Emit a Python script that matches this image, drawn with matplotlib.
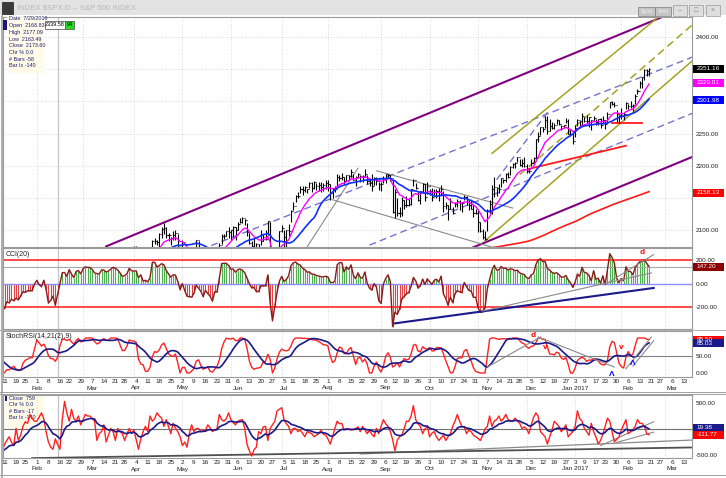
import numpy as np
import pandas as pd
import matplotlib
matplotlib.use("Agg")
import matplotlib.pyplot as plt
import matplotlib.transforms as mtrans
from matplotlib.patches import Rectangle
from matplotlib.lines import Line2D

plt.rcParams['font.family'] = ['Liberation Sans', 'DejaVu Sans']

# S&P 500 daily bars, 2 Nov 2015 .. 17 Feb 2017, one row per month
close = [
    2104.05, 2109.79, 2102.31, 2099.93, 2099.20, 2078.58, 2081.72, 2075.00, 2045.97, 2023.04, 2053.19, 2050.44, 2083.58, 2081.24, 2089.17, 2086.59, 2089.14, 2088.87, 2090.11, 2080.41,
    2102.63, 2079.51, 2049.62, 2091.69, 2077.07, 2063.59, 2047.62, 2052.23, 2012.37, 2021.94, 2043.41, 2073.07, 2041.89, 2005.55, 2021.15, 2038.97, 2064.29, 2060.99, 2056.50, 2078.36, 2063.36, 2043.94,
    2012.66, 2016.71, 1990.26, 1943.09, 1922.03, 1923.67, 1938.68, 1890.28, 1921.84, 1880.33, 1881.33, 1859.33, 1868.99, 1906.90, 1877.08, 1903.63, 1882.95, 1893.36, 1940.24,
    1939.38, 1903.03, 1912.53, 1915.45, 1880.05, 1853.44, 1852.21, 1851.86, 1829.08, 1864.78, 1895.58, 1926.82, 1917.83, 1917.78, 1945.50, 1921.27, 1929.80, 1951.70, 1948.05, 1932.23,
    1978.35, 1986.45, 1993.40, 1999.99, 2001.76, 1979.26, 1989.26, 1989.57, 2022.19, 2019.64, 2015.93, 2027.22, 2040.59, 2049.58, 2051.60, 2049.80, 2036.71, 2035.94, 2037.05, 2055.01, 2063.95, 2059.74,
    2072.78, 2066.13, 2045.17, 2066.66, 2041.91, 2047.60, 2041.99, 2061.72, 2082.42, 2082.78, 2080.73, 2094.34, 2100.80, 2102.40, 2091.48, 2091.58, 2087.79, 2091.70, 2095.15, 2075.81, 2065.30,
    2081.43, 2063.37, 2051.12, 2050.63, 2057.14, 2058.69, 2084.39, 2064.46, 2064.11, 2046.61, 2066.66, 2047.21, 2047.63, 2040.04, 2052.32, 2048.04, 2076.06, 2090.54, 2090.10, 2099.06, 2096.95,
    2099.33, 2105.26, 2099.13, 2109.41, 2112.13, 2119.12, 2115.48, 2096.07, 2079.06, 2075.32, 2071.50, 2077.99, 2071.22, 2083.25, 2088.90, 2085.45, 2113.32, 2037.41, 2000.54, 2036.09, 2070.77, 2098.86,
    2102.95, 2088.55, 2099.73, 2097.90, 2129.90, 2137.16, 2152.14, 2152.43, 2163.75, 2161.74, 2166.89, 2163.78, 2173.02, 2165.17, 2175.03, 2168.48, 2169.18, 2166.58, 2170.06, 2173.60,
    2170.84, 2157.03, 2163.79, 2164.25, 2182.87, 2180.89, 2181.74, 2175.49, 2185.79, 2184.05, 2190.15, 2178.15, 2182.22, 2187.02, 2183.87, 2182.64, 2186.90, 2175.44, 2172.47, 2169.04, 2180.38, 2176.12, 2170.95,
    2170.86, 2179.98, 2186.48, 2186.16, 2181.30, 2127.81, 2159.04, 2127.02, 2125.77, 2147.26, 2139.16, 2139.12, 2139.76, 2163.12, 2177.18, 2164.69, 2146.10, 2159.93, 2171.37, 2151.13, 2168.27,
    2161.20, 2150.49, 2159.73, 2160.77, 2153.74, 2163.66, 2136.73, 2139.18, 2132.55, 2132.98, 2126.50, 2139.60, 2144.29, 2141.34, 2141.16, 2151.33, 2143.16, 2139.43, 2133.04, 2126.41, 2126.15,
    2111.72, 2097.94, 2088.66, 2085.18, 2131.52, 2139.56, 2163.26, 2167.48, 2164.45, 2164.20, 2180.39, 2176.94, 2187.12, 2181.90, 2198.18, 2202.94, 2204.72, 2213.35, 2201.72, 2204.66, 2198.81,
    2191.08, 2191.95, 2204.71, 2212.23, 2241.35, 2246.19, 2259.53, 2256.96, 2271.72, 2253.28, 2262.03, 2258.07, 2262.53, 2270.76, 2265.18, 2260.96, 2263.79, 2268.88, 2249.92, 2249.26, 2238.83,
    2257.83, 2270.75, 2269.00, 2276.98, 2268.90, 2268.90, 2275.32, 2270.44, 2274.64, 2267.89, 2271.89, 2263.69, 2271.31, 2265.20, 2280.07, 2298.37, 2296.68, 2294.69, 2280.90, 2278.87,
    2279.55, 2280.85, 2297.42, 2292.56, 2293.08, 2294.67, 2307.87, 2316.10, 2328.25, 2337.58, 2349.25, 2347.22, 2351.16,
]
high = [
    2105, 2115, 2114, 2108, 2101, 2094, 2084, 2093, 2072, 2045, 2053, 2066, 2084, 2087, 2097, 2095, 2094, 2094, 2094, 2094,
    2103, 2104, 2086, 2093, 2090, 2073, 2081, 2067, 2043, 2023, 2053, 2077, 2076, 2041, 2022, 2040, 2064, 2067, 2058, 2081, 2077, 2063,
    2038, 2021, 2011, 1985, 1960, 1935, 1947, 1950, 1934, 1908, 1902, 1876, 1889, 1909, 1906, 1905, 1916, 1902, 1940,
    1947, 1931, 1916, 1927, 1913, 1873, 1868, 1881, 1846, 1865, 1896, 1930, 1931, 1918, 1947, 1942, 1932, 1952, 1963, 1958,
    1978, 1987, 1994, 2009, 2006, 1999, 1993, 2006, 2022, 2024, 2020, 2033, 2046, 2052, 2053, 2056, 2051, 2037, 2042, 2056, 2073, 2067,
    2075, 2075, 2061, 2068, 2063, 2061, 2062, 2065, 2084, 2088, 2084, 2095, 2104, 2111, 2104, 2095, 2089, 2099, 2100, 2094, 2073,
    2084, 2074, 2060, 2060, 2058, 2068, 2085, 2083, 2074, 2064, 2072, 2071, 2061, 2045, 2059, 2056, 2079, 2094, 2093, 2099, 2104,
    2100, 2106, 2105, 2113, 2119, 2120, 2117, 2110, 2095, 2082, 2087, 2079, 2078, 2100, 2094, 2100, 2114, 2113, 2032, 2037, 2071, 2099,
    2108, 2100, 2100, 2109, 2131, 2143, 2155, 2159, 2169, 2169, 2169, 2164, 2175, 2174, 2176, 2173, 2174, 2174, 2173, 2177,
    2178, 2171, 2165, 2168, 2187, 2186, 2188, 2183, 2186, 2185, 2194, 2187, 2184, 2188, 2185, 2185, 2194, 2186, 2179, 2187, 2183, 2183, 2175,
    2174, 2184, 2187, 2187, 2185, 2178, 2163, 2150, 2136, 2151, 2146, 2153, 2150, 2164, 2179, 2173, 2159, 2161, 2173, 2172, 2175,
    2164, 2165, 2163, 2163, 2165, 2170, 2161, 2144, 2138, 2149, 2135, 2144, 2148, 2147, 2143, 2155, 2152, 2146, 2147, 2140, 2133,
    2131, 2112, 2102, 2099, 2132, 2146, 2170, 2182, 2165, 2171, 2181, 2179, 2188, 2190, 2199, 2204, 2205, 2214, 2211, 2211, 2214,
    2202, 2197, 2210, 2213, 2242, 2252, 2260, 2260, 2278, 2277, 2273, 2268, 2267, 2272, 2271, 2264, 2264, 2274, 2272, 2255, 2253,
    2264, 2273, 2270, 2282, 2275, 2279, 2275, 2271, 2278, 2273, 2272, 2274, 2277, 2271, 2284, 2299, 2301, 2299, 2286, 2279,
    2289, 2283, 2299, 2296, 2300, 2296, 2311, 2319, 2331, 2338, 2351, 2351, 2352,
]
low = [
    2080, 2097, 2096, 2091, 2083, 2072, 2070, 2075, 2045, 2022, 2019, 2045, 2051, 2080, 2083, 2081, 2070, 2086, 2084, 2080,
    2082, 2077, 2042, 2051, 2066, 2052, 2040, 2045, 2009, 1993, 2025, 2042, 2041, 2005, 2005, 2022, 2042, 2058, 2044, 2061, 2062, 2043,
    1989, 2005, 1979, 1938, 1918, 1901, 1914, 1886, 1878, 1857, 1864, 1812, 1848, 1877, 1875, 1878, 1872, 1873, 1894,
    1920, 1901, 1872, 1900, 1872, 1829, 1838, 1850, 1810, 1834, 1866, 1898, 1915, 1902, 1919, 1919, 1891, 1927, 1945, 1932,
    1937, 1971, 1978, 1990, 1987, 1978, 1980, 1969, 1998, 2012, 2006, 2011, 2022, 2041, 2042, 2039, 2035, 2022, 2031, 2023, 2057, 2057,
    2044, 2062, 2043, 2043, 2034, 2040, 2040, 2039, 2066, 2078, 2076, 2074, 2088, 2093, 2088, 2082, 2077, 2084, 2084, 2071, 2052,
    2063, 2054, 2045, 2045, 2040, 2054, 2059, 2064, 2053, 2044, 2046, 2044, 2034, 2025, 2044, 2047, 2052, 2078, 2086, 2090, 2088,
    2085, 2089, 2085, 2100, 2110, 2111, 2107, 2090, 2078, 2064, 2070, 2050, 2069, 2076, 2083, 2084, 2092, 2032, 1992, 2008, 2040, 2071,
    2097, 2074, 2074, 2090, 2112, 2131, 2143, 2149, 2157, 2155, 2159, 2157, 2165, 2159, 2163, 2162, 2161, 2159, 2160, 2163,
    2161, 2147, 2150, 2159, 2168, 2176, 2178, 2172, 2176, 2177, 2183, 2178, 2168, 2180, 2175, 2175, 2183, 2171, 2169, 2160, 2170, 2170, 2162,
    2161, 2173, 2173, 2180, 2176, 2127, 2119, 2121, 2120, 2122, 2132, 2135, 2137, 2139, 2169, 2163, 2145, 2141, 2157, 2145, 2156,
    2154, 2145, 2152, 2150, 2145, 2155, 2128, 2132, 2115, 2132, 2124, 2135, 2136, 2131, 2128, 2146, 2139, 2131, 2132, 2120, 2125,
    2097, 2097, 2086, 2084, 2099, 2124, 2125, 2151, 2152, 2157, 2166, 2173, 2175, 2180, 2186, 2196, 2196, 2206, 2200, 2198, 2198,
    2188, 2188, 2199, 2202, 2208, 2237, 2248, 2252, 2259, 2250, 2254, 2257, 2257, 2265, 2263, 2255, 2258, 2266, 2249, 2246, 2234,
    2245, 2262, 2258, 2264, 2268, 2266, 2260, 2255, 2271, 2263, 2264, 2258, 2266, 2257, 2267, 2289, 2294, 2292, 2268, 2267,
    2272, 2271, 2288, 2288, 2290, 2285, 2296, 2311, 2321, 2321, 2334, 2339, 2339,
]

# bottom pane oscillator (other symbol), daily from 8 Jan 2016
breadth_start = "2016-01-08"
breadth = [
    -420, -300, -220, -150, -250, -320, 10, -220, -120, 50,
    140, 110, 280, 200, 150, 150, 230, 310, 200, -50,
    -250, -350, -390, -190, -300, -390, 180, 530, 310, 150,
    380, 200, 150, 250, 80, 180, 280, 250, 250, 200,
    150, -220, -90, -50, 80, -250, -120, 10, -50, -220,
    10, -50, -90, -220, -100, 10, -90, -20, -200, -390,
    -190, -50, 50, -50, 250, 150, 200, 310, 250, 210,
    50, 180, 50, -90, 110, 20, -50, -150, -320, -250,
    -350, -90, 80, -50, 10, 10, -50, -30, -20, 80,
    20, -50, -20, 10, 280, 180, 150, 200, 310, 180,
    120, 80, 150, 170, 180, 10, -300, -420, -520, -400,
    -350, -50, -90, 40, 50, -220, 10, 80, 150, 350,
    380, 410, 180, 100, 50, -90, 10, 10, -50, -20,
    -80, -150, -50, -70, -90, -150, -120, -90, -20, -100,
    -120, -190, -290, -150, 10, 150, 100, 110, -20, 10,
    0, -20, -10, 10, 40, -50, 50, -20, -90, -20,
    -100, -150, 10, -90, 50, 180, 100, 50, -50, -200,
    -420, -220, -150, -120, 10, 150, 150, 250, 450, 180,
    100, 50, -90, 0, 50, -150, -80, -50, -150, -220,
    -170, -120, -220, -150, -90, 50, 150, 280, 150, 50,
    40, -90, -20, -50, -120, -150, -180, -220, -120, 0,
    50, 250, 50, 150, 180, 250, 150, 200, 280, 180,
    160, 150, 210, 150, 110, 10, 40, 0, -90, 80,
    220, 310, 250, -50, -100, -150, -290, -150, -20, 150,
    100, 50, -50, 0, 80, -150, -100, -50, 50, 350,
    200, 150, 10, -50, -120, 110, -50, -150, -290, -220,
    -100, 50, 210, 150, -50, -250, -200, -150, -20, 80,
    180, -90, -50, -20, 50, 180, 110, 110, 50, -90,
    -112,
]

holidays = ["2015-11-26", "2015-12-25", "2016-01-01", "2016-01-18", "2016-02-15",
            "2016-03-25", "2016-05-30", "2016-07-04", "2016-09-05", "2016-11-24",
            "2016-12-26", "2017-01-02", "2017-01-16", "2017-02-20"]

# drawn trend lines: (date, value, date, value)
purple_lines = [("2016-03-15", 2074.4, "2017-02-28", 2431.8),
                ("2016-10-28", 2073.0, "2017-03-17", 2214.0)]
dashed_blue_lines = [("2016-05-12", 2069.3, "2017-03-17", 2369.2),
                     ("2016-08-25", 2076.3, "2017-03-17", 2281.8),
                     ("2016-11-11", 2178.0, "2016-12-15", 2287.5)]
olive_lines = [("2016-11-04", 2083.0, "2017-03-17", 2364.0),
               ("2016-11-09", 2219.0, "2017-02-27", 2434.0)]
olive_dashed_lines = [("2016-11-28", 2186.0, "2017-03-17", 2420.0)]
gray_price_lines = [("2016-07-18", 2068.0, "2016-08-18", 2196.0),
                    ("2016-08-30", 2192.0, "2016-11-22", 2134.0),
                    ("2016-08-03", 2147.0, "2016-11-14", 2070.0)]
red_price_lines = [("2017-01-26", 2265.6, "2017-02-14", 2265.6),
                   ("2016-12-02", 2195.0, "2017-02-03", 2231.0)]
cci_navy_lines = [("2016-09-12", -335, "2017-02-22", -34)]
cci_gray_lines = [("2016-11-03", -230, "2017-02-21", 94),
                  ("2017-01-24", 8, "2017-02-22", 250)]
stoch_gray_lines = [("2016-11-07", 17, "2016-12-09", 103),
                    ("2016-12-08", 103, "2017-01-27", 17),
                    ("2017-02-03", 12, "2017-02-21", 103),
                    ("2017-02-08", 20, "2017-02-22", 92)]
osc_gray_lines = [("2016-08-19", -480, "2017-03-17", -212),
                  ("2016-01-28", -560, "2017-03-17", -355),
                  ("2017-01-19", -320, "2017-02-22", 140),
                  ("2017-01-30", -260, "2017-02-22", -60)]
stoch_marks = [("d", "2016-12-06", 106, "red"), ("v", "2016-12-13", 72, "red"),
               ("Λ", "2017-01-26", -4, "blue"), ("v", "2017-02-01", 74, "red"),
               ("Λ", "2017-02-08", 26, "blue")]
cci_marks = [("d", "2017-02-14", 264, "red")]

price_ticks = [2100, 2200, 2250, 2400]
price_tags = ["2351.16", "2329.01", "2301.98", "2158.13"]
cci_tag = "147.20"
stoch_tags = ["95.50", "85.03"]
osc_tags = ["19.38", "-111.77"]

# ---- calendar and indicators ----
days = pd.bdate_range("2015-11-02", "2017-03-31", freq="C", holidays=holidays)
xpos = {d: i for i, d in enumerate(days)}
def xi(s):
    return xpos[pd.Timestamp(s)]

x = np.arange(len(close))
c = pd.Series(close, dtype=float)
h = pd.Series(high, dtype=float)
l = pd.Series(low, dtype=float)
opn = c.shift(1).fillna(c)

ema10 = c.ewm(span=10, adjust=False).mean()
sma20 = c.rolling(20).mean()
long_ma = c.rolling(230).mean()

tp = (h + l + c) / 3
md = tp.rolling(20).apply(lambda v: np.mean(np.abs(v - v.mean())), raw=True)
cci = (tp - tp.rolling(20).mean()) / (0.015 * md)

delta = c.diff()
gain = delta.clip(lower=0).ewm(alpha=1/14, adjust=False).mean()
loss = (-delta.clip(upper=0)).ewm(alpha=1/14, adjust=False).mean()
rsi = 100 - 100 / (1 + gain / loss)
lo21, hi21 = rsi.rolling(21).min(), rsi.rolling(21).max()
stk = ((rsi - lo21) / (hi21 - lo21) * 100).rolling(2).mean()
std = stk.rolling(9).mean()

bx = xi(breadth_start) + np.arange(len(breadth))
br = pd.Series(breadth, dtype=float)
br_avg = br.ewm(span=10, adjust=False).mean()

wk = days.to_period("W")
week_idx = [i for i in range(len(days)) if i == 0 or wk[i] != wk[i-1]]
week_lbl = [str(days[i].day) for i in week_idx]
month_idx = [i for i in range(1, len(days)) if days[i].month != days[i-1].month]
month_lbl = []
for k, i in enumerate(week_idx):
    if k > 0 and days[i].month != days[week_idx[k-1]].month:
        d = days[i]
        month_lbl.append((i, d.strftime("%b") + (" %d" % d.year if d.month == 1 else "")))

# ---- figure ----
W, H = 726, 478
fig = plt.figure(figsize=(W/100, H/100), dpi=100, facecolor='white')
X0, X1 = 46.35, 344.6

def panel(top, bottom):
    return fig.add_axes([3/W, 1 - bottom/H, (692 - 3)/W, (bottom - top)/H])

def style(ax, ylim, yt):
    ax.set_ylim(*ylim)
    ax.yaxis.tick_right()
    ax.set_yticks(yt)
    ax.set_yticklabels(["%.2f" % v for v in yt])
    ax.tick_params(axis='y', length=0, labelsize=4.6, pad=2.5, colors='#202020')
    ax.set_xticks([])
    for s in ax.spines.values():
        s.set_color('#9a9a9a')
        s.set_linewidth(0.8)
    for m in month_idx:
        ax.axvline(m, color='#cdcdcd', lw=0.6, ls=(0, (1, 2)), zorder=0)
    ax.axvline(xi("2016-02-12"), color='#c4c4c4', lw=0.9, zorder=0)
    ax.set_xlim(X0, X1)

def tag(ax, val, text, fc):
    y0, y1 = ax.get_ylim()
    pos = ax.get_position()
    per_px = (y1 - y0) / (pos.height * H)
    tr = mtrans.blended_transform_factory(ax.transAxes, ax.transData)
    ax.add_patch(Rectangle((1.002, val - 4 * per_px), 31 / (pos.width * W), 8 * per_px,
                           transform=tr, fc=fc, ec='none', clip_on=False, zorder=6))
    ax.text(1.002 + 3 / (pos.width * W), val, text, transform=tr, fontsize=4.6, color='white',
            va='center', ha='left', clip_on=False, zorder=7)

def seg(ax, lines, **kw):
    for a, va, b, vb in lines:
        ax.plot([xi(a), xi(b)], [va, vb], **kw)

def date_axis(ax):
    vis = [(i, s) for i, s in zip(week_idx, week_lbl) if X0 <= i <= X1]
    ax.set_xticks([i for i, _ in vis])
    ax.set_xticklabels([s for _, s in vis])
    ax.tick_params(axis='x', length=0, pad=1.3, labelsize=4.6, colors='#202020')
    for i, name in month_lbl:
        if X0 < i < X1:
            ax.annotate(name, (i, 0), xycoords=('data', 'axes fraction'), xytext=(0, -11),
                        textcoords='offset pixels', ha='center', va='center', fontsize=4.6,
                        color='#202020', annotation_clip=False)
    ax.set_xlim(X0, X1)

# main price pane
ax_p = panel(17, 247)
style(ax_p, (2073.4, 2431.3), price_ticks)
for v in range(2100, 2401, 50):
    ax_p.axhline(v, ls=(0, (1, 2)), color='#cdcdcd', lw=0.6, zorder=0)
seg(ax_p, purple_lines, color='#800080', lw=1.5)
seg(ax_p, dashed_blue_lines, color='#7474cc', lw=1, ls=(0, (5, 3)))
seg(ax_p, olive_lines, color='#a3a320', lw=1.1)
seg(ax_p, olive_dashed_lines, color='#a3a320', lw=1.1, ls=(0, (5, 3)))
seg(ax_p, gray_price_lines, color='#8a8a8a', lw=0.8)
seg(ax_p, red_price_lines, color='#ff1a1a', lw=1.3)
ax_p.vlines(x, l, h, color='black', lw=0.8)
ax_p.hlines(c, x, x + 0.45, color='black', lw=0.8)
ax_p.hlines(opn, x - 0.45, x, color='black', lw=0.8)
ax_p.plot(x, ema10, color='#ff00ff', lw=1)
ax_p.plot(x, sma20, color='#1030ff', lw=1.2)
ax_p.plot(x, long_ma, color='#ff1a1a', lw=1.2)
for t, fc in zip(price_tags, ['black', '#ff00ff', '#0000ff', '#ff0000']):
    tag(ax_p, float(t), t, fc)

# CCI pane
ax_c = panel(248, 329)
style(ax_c, (-383, 306), [200, 0, -200])
ok = cci.notna().values
ax_c.vlines(x[ok], 0, cci[ok].clip(lower=0), color='#4fae4f', lw=0.8)
ax_c.vlines(x[ok], cci[ok].clip(upper=0), 0, color='#e04545', lw=0.8)
ax_c.axhline(200, color='#ff2a2a', lw=1.2)
ax_c.axhline(-200, color='#ff2a2a', lw=1.2)
ax_c.axhline(0, color='#8c8cff', lw=1)
ax_c.axhline(float(cci_tag), color='#a8a8a8', lw=0.8)
ax_c.plot(x, cci, color='#8b1a1a', lw=1)
seg(ax_c, cci_navy_lines, color='#1a1a8c', lw=1.5)
seg(ax_c, cci_gray_lines, color='#8a8a8a', lw=0.8)
for ch, d, v, col in cci_marks:
    ax_c.text(xi(d), v, ch, color=col, fontsize=6, fontweight='bold', ha='center', va='center')
ax_c.text(0.004, 0.96, "CCI(20)", transform=ax_c.transAxes, fontsize=5, va='top', color='#202020')
tag(ax_c, float(cci_tag), cci_tag, '#8b0000')

# StochRSI pane
ax_s = panel(331, 377)
style(ax_s, (-11.4, 120), [50, 0])
ax_s.axhline(50, color='#808080', lw=0.8)
ax_s.plot(x, stk, color='#ff2020', lw=1)
ax_s.plot(x, std, color='#1a1a8a', lw=1.2)
seg(ax_s, stoch_gray_lines, color='#8a8a8a', lw=0.8)
for ch, d, v, col in stoch_marks:
    ax_s.text(xi(d), v, ch, color=col, fontsize=6, fontweight='bold', ha='center', va='center')
ax_s.text(0.004, 0.96, "StochRSI(14,21(2),9)", transform=ax_s.transAxes, fontsize=5,
          va='top', color='#202020')
for t, fc in zip(stoch_tags, ['#ff0000', '#1a1a8a']):
    tag(ax_s, float(t), t, fc)
date_axis(ax_s)

# bottom oscillator pane
ax_b = panel(395, 458)
ax_b.patch.set_visible(False)
style(ax_b, (-558, 654), [500, -500])
ax_b.axhline(0, color='#707070', lw=0.8)
seg(ax_b, osc_gray_lines[:1], color='#8a8a8a', lw=0.9)
seg(ax_b, osc_gray_lines[1:2], color='#505050', lw=1.3)
seg(ax_b, osc_gray_lines[2:], color='#8a8a8a', lw=0.8)
ax_b.plot(bx, br, color='#ff2020', lw=1)
ax_b.plot(bx, br_avg, color='#1a1a8a', lw=1.2)
for t, fc in zip(osc_tags, ['#1a1a8a', '#ff0000']):
    tag(ax_b, float(t), t, fc)
date_axis(ax_b)

# ---- window chrome ----
def frect(px, py, w, hh, **kw):
    fig.add_artist(Rectangle((px/W, 1 - (py + hh)/H), w/W, hh/H, transform=fig.transFigure, **kw))

def ftext(px, py, s, **kw):
    fig.text(px/W, 1 - py/H, s, **kw)

frect(0, 0, 726, 15, fc='#e3e3e3', ec='none', zorder=3)
frect(2, 2, 11, 12, fc='#3a3a3a', ec='#202020', lw=0.5, zorder=4)
ftext(17, 8, "INDEX $SPX.D -- S&P 500 INDEX", fontsize=5.6, color='#b8b8b8', va='center', zorder=4)
for bx0, w, s in [(638, 17, "Syml"), (655, 16, "Intvl")]:
    frect(bx0, 7, w, 9, fc='#c4c4c4', ec='#7a7a7a', lw=0.5, zorder=4)
    ftext(bx0 + w/2, 11.5, s, fontsize=3.8, color='#f4f4f4', ha='center', va='center', zorder=5)
for bx0, s in [(673, "–"), (689, "□"), (706, "×")]:
    frect(bx0, 5, 14, 11, fc='#dedede', ec='#9a9a9a', lw=0.5, zorder=4)
    ftext(bx0 + 7, 10.5, s, fontsize=5, color='#8a8a8a', ha='center', va='center', zorder=5)

# data box, top left
frect(7, 17, 37, 56, fc='#fffbe8', ec='none', zorder=2)
frect(3, 20, 4, 10, fc='#1a1a7a', ec='none', zorder=2)
for k, s in enumerate(["Date  7/29/2016", "Open  2168.83", "High  2177.09", "Low  2163.49",
                       "Close  2173.60", "Chr % 0.0", "# Bars -58", "Bar Ix -140"]):
    ftext(9, 19 + 6.7 * k, s, fontsize=3.9, color='#1c1c70', va='center', zorder=2)
frect(45, 21, 20, 8, fc='white', ec='#606060', lw=0.6, zorder=2)
ftext(55, 25, "2339.58", fontsize=4.0, color='black', ha='center', va='center', zorder=3)
frect(65, 21, 9, 8, fc='#22dd22', ec='#606060', lw=0.6, zorder=2)
ftext(69.5, 25, "94", fontsize=4.0, color='black', ha='center', va='center', zorder=3)

# data box, bottom pane (under the lines)
frect(5, 395, 38, 34, fc='#fffbe8', ec='none', zorder=-1)
frect(5, 396, 2, 5, fc='#1a1a7a', ec='none', zorder=-1)
for k, s in enumerate(["Close  759", "Chr % 0.0", "# Bars -17", "Bar Ix -140"]):
    ftext(9, 398.5 + 6.3 * k, s, fontsize=3.9, color='#1c1c70', va='center', zorder=-1)

# separators
for yy, col in [(392, '#a0a0a0'), (394, '#a0a0a0'), (475, '#a0a0a0'), (329.5, '#b0b0b0')]:
    fig.add_artist(Line2D([0, 1], [1 - yy/H, 1 - yy/H], transform=fig.transFigure, color=col, lw=0.7))
fig.add_artist(Line2D([1.5/W, 1.5/W], [0, 1 - 15/H], transform=fig.transFigure, color='#a0a0a0', lw=1.2))

fig.savefig("out.png", dpi=100, facecolor='white')
